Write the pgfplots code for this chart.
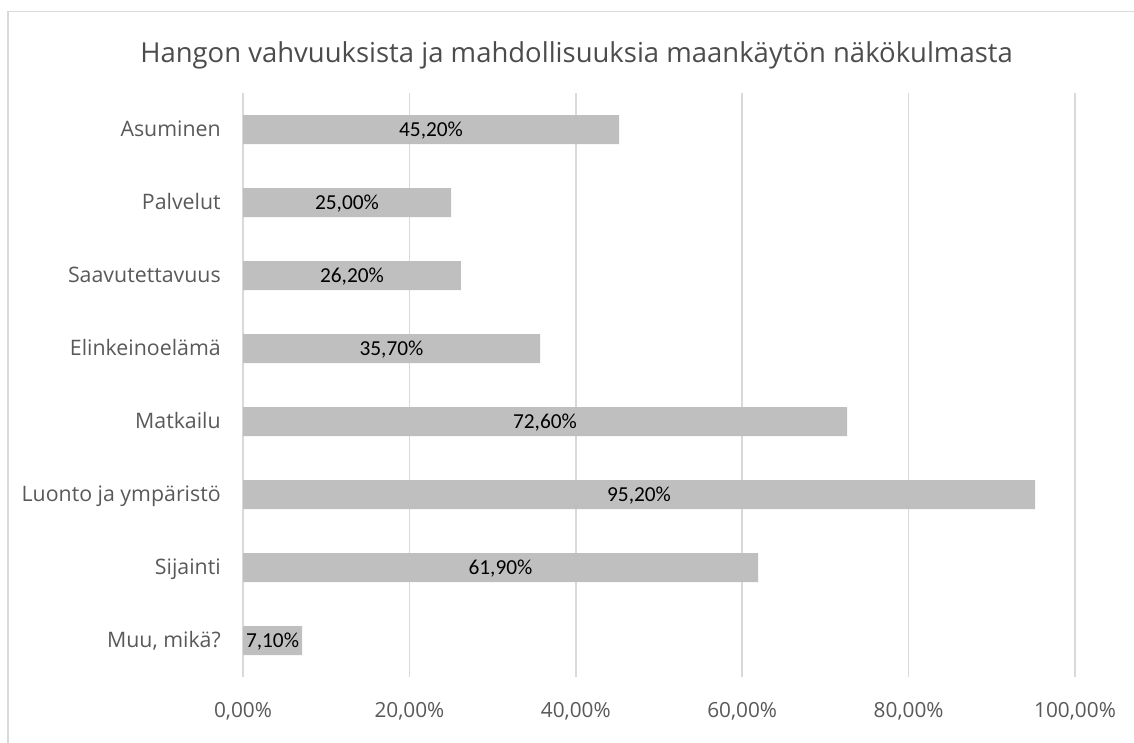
\documentclass[border=0pt]{standalone}
\usepackage{pgfplots}
\pgfplotsset{compat=1.18}
\usepackage{fontspec}
\setmainfont{Open Sans}
\newfontfamily\calibri{Carlito}
\definecolor{txt}{HTML}{595959}
\definecolor{barc}{HTML}{BFBFBF}
\definecolor{gridc}{HTML}{D9D9D9}
\begin{document}
\begin{tikzpicture}
\useasboundingbox (0,0) rectangle (850.5pt,-556.5pt);
\draw[gridc, line width=1.1pt] (6pt,-560pt) -- (6pt,-8.6pt) -- (855pt,-8.6pt);
\node[anchor=base, font=\fontsize{20.6}{24}\selectfont, text=txt!85!black, inner sep=0pt] at (432.4pt,-47.25pt) {Hangon vahvuuksista ja mahdollisuuksia maankäytön näkökulmasta};
\begin{axis}[
  at={(182.25pt,-507.75pt)}, anchor=south west,
  scale only axis, width=624pt, height=438pt,
  xbar, bar width=21.75pt,
  xmin=0, xmax=100, ymin=-0.5, ymax=7.5, y dir=reverse,
  axis line style={draw=none},
  xmajorgrids=true, ymajorgrids=false,
  major grid style={draw=gridc, line width=1.1pt},
  major tick length=0pt,
  xtick={0,20,40,60,80,100},
  ytick={0,1,2,3,4,5,6,7},
  yticklabels={Asuminen,Palvelut,Saavutettavuus,Elinkeinoelämä,Matkailu,Luonto ja ympäristö,Sijainti,{Muu, mikä?}},
  /pgf/number format/assume math mode=true,
  xticklabel={\pgfmathprintnumber[fixed,fixed zerofill,precision=2,use comma]{\tick}\%},
  xticklabel style={anchor=base, inner sep=0pt, yshift=-30pt, text=txt, font=\fontsize{15.6}{18}\selectfont},
  yticklabel style={anchor=base east, inner sep=0pt, xshift=-16.5pt, yshift=-5.25pt, text=txt, font=\fontsize{16}{19}\selectfont},
  clip=false,
]
\addplot[fill=barc, draw=none,
  visualization depends on=rawx \as \rawx,
  point meta=x,
  nodes near coords={\pgfmathprintnumber[fixed,fixed zerofill,precision=2,use comma]{\pgfplotspointmeta}\%},
  nodes near coords style={anchor=base, inner sep=0pt, yshift=-5.25pt, shift={(axis direction cs:-\rawx/2,0)}, text=black, font=\calibri\fontsize{16}{19}\selectfont},
] coordinates {
(45.2,0) (25.0,1) (26.2,2) (35.7,3) (72.6,4) (95.2,5) (61.9,6) (7.1,7)
};
\end{axis}
\end{tikzpicture}
\end{document}
